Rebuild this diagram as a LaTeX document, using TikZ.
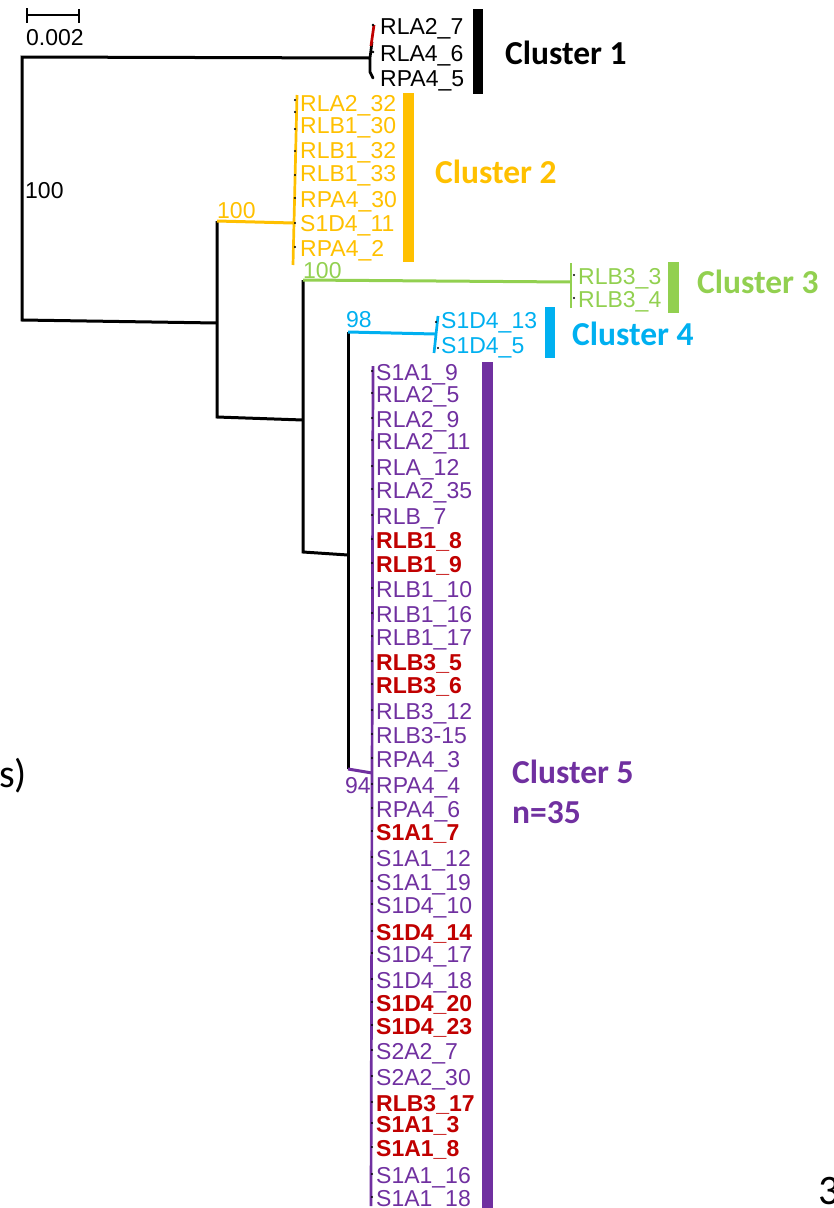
\documentclass[tikz,border=0pt]{standalone}
\usepackage{fontspec}
\setmainfont{Liberation Sans}
\newfontfamily\clfont{Carlito}
\definecolor{ctwo}{HTML}{FFC000}
\definecolor{cthree}{HTML}{92D050}
\definecolor{cfour}{HTML}{00B0F0}
\definecolor{cfive}{HTML}{7030A0}
\definecolor{hl}{HTML}{C00000}
\begin{document}
\begin{tikzpicture}[x=1pt,y=-1pt,
  lab/.style={anchor=base west,inner sep=0pt,font=\fontsize{23}{25}\selectfont},
  purplab/.style={lab,text=cfive},
  redlab/.style={lab,text=hl,font=\fontsize{23}{25}\selectfont\bfseries},
  clus/.style={anchor=base west,inner sep=0pt,font=\clfont\bfseries\fontsize{33.5}{36}\selectfont},
  branch/.style={line width=3pt},
  tipline/.style={line width=2.7pt},
  tipdot/.style={fill=black}]
\useasboundingbox (0,0) rectangle (834,1208);

% scale bar
\coordinate (sbl) at (27,15); \coordinate (sbr) at (79,15);
\draw[line width=2.3pt] (sbl) -- (sbr);
\draw[line width=2.3pt] (27,8) -- (27,23);
\draw[line width=2.3pt] (79,9) -- (79,23);
\node[lab] (sbt) at (26,45) {0.002};

% internal nodes
\coordinate (n0t) at (22,57);  \coordinate (n0b) at (22,320);
\coordinate (n1t) at (217,221); \coordinate (n1m) at (217,323); \coordinate (n1b) at (217,417);
\coordinate (n2t) at (303,280); \coordinate (n2m) at (303,420); \coordinate (n2b) at (303,552);
\coordinate (n3t) at (348,332); \coordinate (n3m) at (348,555); \coordinate (n3b) at (348,769);
\coordinate (t1) at (370,58); \coordinate (t2) at (293,223); \coordinate (t3) at (571,282);
\coordinate (t4) at (435,334); \coordinate (t5) at (372,773);

\draw[branch] (t1) -- (n0t) -- (n0b) -- (n1m);
\draw[branch] (n1t) -- (n1b) -- (n2m);
\draw[branch] (n2t) -- (n2b) -- (n3m);
\draw[branch] (n3t) -- (n3b);
\draw[branch,ctwo] (n1t) -- (t2);
\draw[branch,cthree] (n2t) -- (t3);
\draw[branch,cfour] (n3t) -- (t4);
\draw[branch,cfive] (n3b) -- (t5);

% bootstrap values
\node[lab] (b0) at (25,198) {100};
\node[lab,text=ctwo] (b1) at (217,218) {100};
\node[lab,text=cthree] (b2) at (303,278) {100};
\node[lab,text=cfour] (b3) at (346,327) {98};
\node[lab,text=cfive] (b4) at (345,793) {94};

% cluster 1
\draw[tipline] (372,42) -- (370,58) -- (370,72) -- (373,78);
\draw[tipline,hl] (374,25) -- (371,46);
\foreach \y in {25,52,78} \fill[tipdot] (373,\y) circle (1.3);
\node[lab] (a1) at (380,34) {RLA2\_7};
\node[lab] (a2) at (380,61) {RLA4\_6};
\node[lab] (a3) at (380,86) {RPA4\_5};
\fill[black] (473,9) rectangle (483,94);
\node[clus] (cl1) at (505,64) {Cluster 1};

% cluster 2
\draw[tipline,ctwo] (297,95) -- (293,265);
\foreach \y in {100,112,129,151,175,198,223,247} \fill[tipdot] (295,\y) circle (1.2);
\foreach [count=\i] \b/\t in {111/RLA2\_32,133/RLB1\_30,158/RLB1\_32,181/RLB1\_33,207/RPA4\_30,231/S1D4\_11,256/RPA4\_2}
  \node[lab,text=ctwo] (o\i) at (300,\b) {\t};
\fill[ctwo] (403,93) rectangle (414,262);
\node[clus,text=ctwo] (cl2) at (435,183) {Cluster 2};

% cluster 3
\draw[tipline,cthree] (571,263) -- (571,308);
\foreach \y in {275,298} \fill[tipdot] (574,\y) circle (1.2);
\node[lab,text=cthree] (g1) at (578,284) {RLB3\_3};
\node[lab,text=cthree] (g2) at (578,307) {RLB3\_4};
\fill[cthree] (668,262) rectangle (679,313);
\node[clus,text=cthree] (cl3) at (697,293) {Cluster 3};

% cluster 4
\draw[tipline,cfour] (438,316) -- (434,353);
\fill[tipdot] (436,322) circle (1.2);
\fill[tipdot] (438,348) circle (1.2);
\node[lab,text=cfour] (f1) at (441,328) {S1D4\_13};
\node[lab,text=cfour] (f2) at (441,353) {S1D4\_5};
\fill[cfour] (545,307) rectangle (555,358);
\node[clus,text=cfour] (cl4) at (572,345) {Cluster 4};

% cluster 5
\draw[tipline,cfive] (373,366) -- (371,1206);
\foreach [count=\i] \b/\t/\s in {
  380/S1A1\_9/purplab, 402/RLA2\_5/purplab, 427/RLA2\_9/purplab, 449/RLA2\_11/purplab,
  475/RLA\_12/purplab, 498/RLA2\_35/purplab, 524/RLB\_7/purplab, 548/RLB1\_8/redlab,
  572/RLB1\_9/redlab, 597/RLB1\_10/purplab, 622/RLB1\_16/purplab, 645/RLB1\_17/purplab,
  670/RLB3\_5/redlab, 693/RLB3\_6/redlab, 719/RLB3\_12/purplab, 743/RLB3-15/purplab,
  767/RPA4\_3/purplab, 793/RPA4\_4/purplab, 817/RPA4\_6/purplab, 840/S1A1\_7/redlab,
  866/S1A1\_12/purplab, 890/S1A1\_19/purplab, 913/S1D4\_10/purplab, 940/S1D4\_14/redlab,
  962/S1D4\_17/purplab, 988/S1D4\_18/purplab, 1011/S1D4\_20/redlab, 1034/S1D4\_23/redlab,
  1059/S2A2\_7/purplab, 1085/S2A2\_30/purplab, 1111/RLB3\_17/redlab, 1132/S1A1\_3/redlab,
  1156/S1A1\_8/redlab, 1183/S1A1\_16/purplab, 1206/S1A1\_18/purplab}
{
  \fill[tipdot] (372,\b-9) circle (1.2);
  \node[\s] (p\i) at (376,\b) {\t};
}
\fill[cfive] (482,362) rectangle (493,1208);
\node[clus,text=cfive] (cl5) at (512,783) {Cluster 5};
\node[clus,text=cfive] (cl5n) at (512,823) {n=35};

% stray page text
\node[anchor=base east,inner sep=0pt,font=\clfont\fontsize{40}{44}\selectfont] (sx) at (27,787) {s)};
\node[anchor=base west,inner sep=0pt,font=\clfont\fontsize{42}{46}\selectfont] (pg) at (818,1204) {3};
\end{tikzpicture}
\end{document}
